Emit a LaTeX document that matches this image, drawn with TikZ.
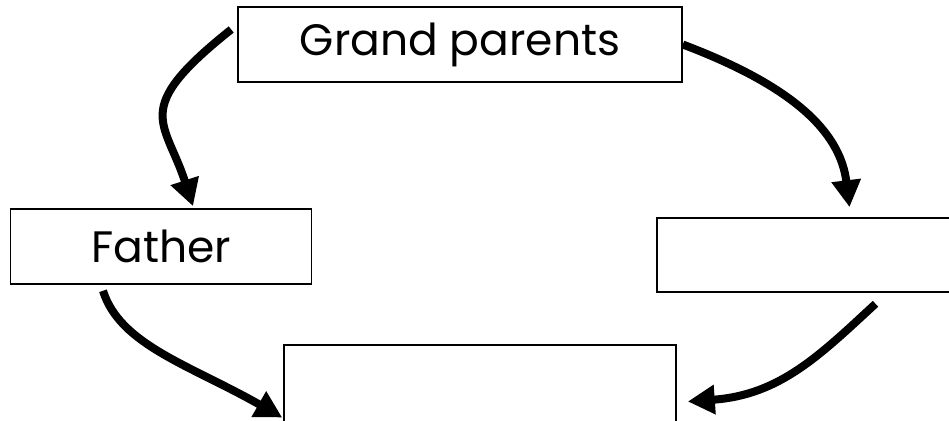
\documentclass[tikz,border=0pt]{standalone}
\usepackage{fontspec}
\setmainfont{Poppins}
\usetikzlibrary{positioning, arrows.meta, calc}
\tikzset{
    fambox/.style={draw, line width=1.6pt, inner sep=0pt, fill=white,
        font=\fontsize{44}{48}\selectfont},
    famarrow/.style={line width=8pt, -{Triangle[length=27pt, width=28pt]}}
}

\begin{document}
\begin{tikzpicture}[x=1pt, y=1pt]
    \useasboundingbox (0,0) rectangle (949,420);
    \clip (0,0) rectangle (949,420);

    % Boxes
    \node[fambox, minimum width=444pt, minimum height=75pt] (gp) at (460,375.5) {\raisebox{-3pt}{Grand parents}};
    \node[fambox, minimum width=301pt, minimum height=75pt] (father) at (161,173.5) {\raisebox{-3pt}{Father}};
    \node[fambox, minimum width=303pt, minimum height=74pt] (rbox) at (808.5,165) {};
    \node[fambox, minimum width=392pt, minimum height=85pt] (bbox) at (480,32.5) {};

    % Arrows
    \draw[famarrow] ([xshift=-6pt, yshift=15pt]gp.west)
        .. controls (130,310) and (165,300) .. ([xshift=32pt, yshift=2pt]father.north);
    \draw[famarrow] (gp.east)
        .. controls (790,335) and (840,290) .. ([xshift=41pt, yshift=10pt]rbox.north);
    \draw[famarrow] ([xshift=-58pt, yshift=-6pt]father.south)
        .. controls (120,75) and (190,55) .. ([xshift=-1pt, yshift=-30pt]bbox.west);
    \draw[famarrow] ([xshift=67pt, yshift=-11pt]rbox.south)
        .. controls (820,65) and (780,25) .. ([xshift=11pt, yshift=-14pt]bbox.east);
\end{tikzpicture}
\end{document}
